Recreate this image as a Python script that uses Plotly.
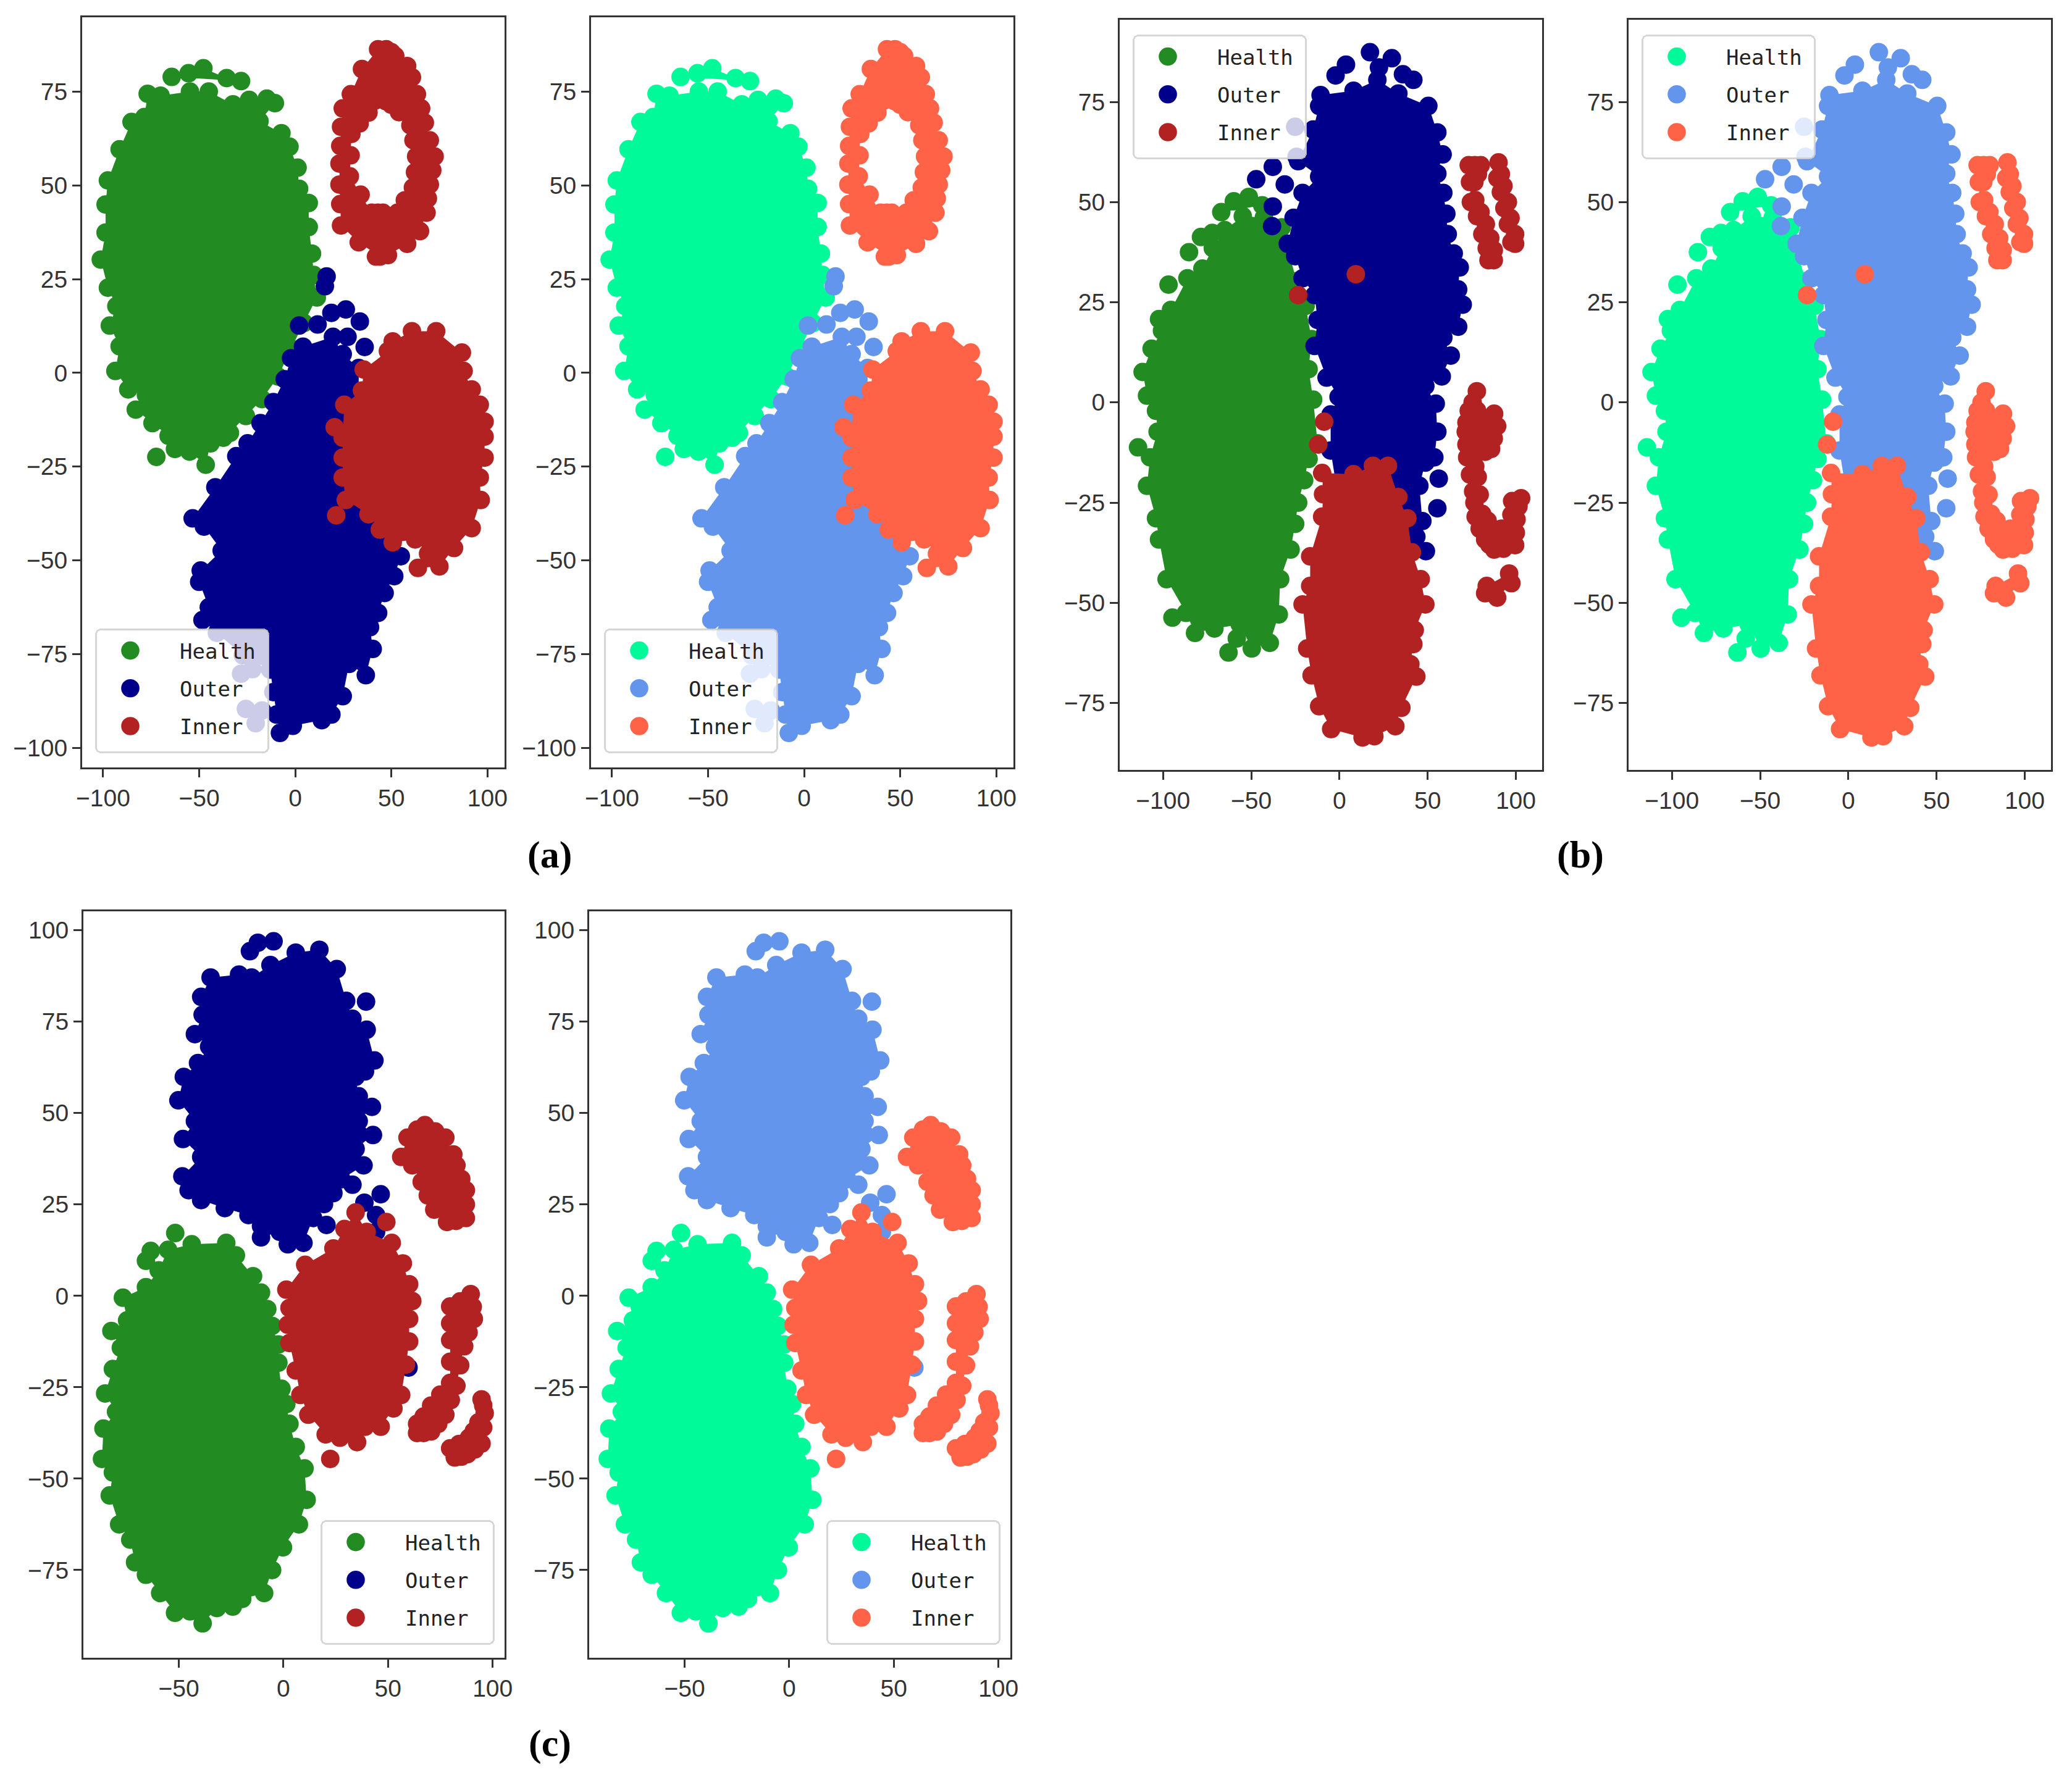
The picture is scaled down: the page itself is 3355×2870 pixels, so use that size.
import plotly.graph_objects as go

# Values. Each list runs round the edge of a cluster; None starts a new part.
A_HEALTH = [(-54.8,75),(-45,75),(-32.4,71.6),(-24,72.8),(-14.8,73.1),(-10.6,71.9),(-18.6,67.1),(-7.2,63.9),(-3,60.3),(1.2,54.7),(2,49.1),(7,45.3),(7,38.9),(8.7,31.8),(9.6,26.1),(11.2,20.1),(4.5,13.3),(-2.2,6.5),(-8.9,-1),(-17.3,-7),(-25.7,-11.5),(-34,-16),(-37.4,-17.3),(-44.1,-18.8),(-46.6,-24.5),(-55,-21),(-62.6,-20.3),(-65.9,-16.8),(-74.3,-13.4),(-83,-9.8),(-77.7,-5.9),(-86.9,-4.4),(-93.6,0.5),(-91.4,7.1),(-96.5,12.6),(-93.1,17.8),(-97.5,22.7),(-101.2,30.2),(-98.7,37.4),(-98.7,44.9),(-97.5,51.3),(-91.4,59.6),(-85.2,66.9),(-78.5,68.2),(-76.8,74.4),(-70.1,73.9),None,
            (-64.3,78.9),(-55.5,79.9),(-47.8,81.2),(-35.7,78.6),(-28.2,77.8),None,(-72.3,-22.4)]
A_OUTER = [(-24.8,-18.8),(-30.7,-22.2),(-41.6,-30.5),(-53.4,-38.8),(-47.5,-41),(-38.3,-47.4),(-49.2,-52.7),(-50,-55.7),(-45,-62.5),(-48.3,-65.9),(-40.8,-69.3),(-27.3,-75.3),(-13.1,-79.1),(-11.4,-85.1),(-9.7,-91.1),(-8,-96),(-1.3,-94.1),(13.8,-92.6),(18.8,-91.1),(24.7,-86.2),(28,-77.6),(36.7,-80.6),(40.3,-73.6),(38.9,-67.8),(43.1,-64),(46.5,-58.7),(51.5,-54.2),(54.9,-48.9),(33,-31),(33,1.3),(24.7,5),(19.6,9.6),(4,7),(-2.2,3.9),(-5.5,-1.7),(-11.4,-7.8),(-18.1,-13.4),None,
           (16.3,25.7),(15.4,23.1),None,(26.3,16.9),(18.8,16),(11.6,12.9),None,(33.6,13.7),None,(2,12.6),None,(36.1,6.9),None,(27.2,9.6),None,(-28.2,-80.2),(-22.3,-79),None,(-25.7,-89.6),(-20.6,-93.4),(-17.3,-90)]
A_INNER = [(47.3,86.3),(52,84.5),(58.2,81.8),(60.7,78.8),(63.3,74.3),(65.5,70.5),(67.4,66.7),(70,62),(72.5,57.7),(71.3,54),(70,50.2),(69,46.5),(68.3,42.7),(64.9,37.8),(58.2,34.4),(48.2,31.4),(42,31),(43,42.7),(53.2,42.7),(57,46),(61.2,49.4),(62.3,53.5),(62.9,57.7),(61.5,62),(59.9,66),(54,69.5),(47.3,72.4),None,
           (50,85.5),(43.1,86.3),(34.7,81),(28.9,74.3),(24.7,70.5),(23.8,65.6),(23.4,60.5),(23,55.8),(23,50.2),(23.4,45),(23.8,39.3),(33,34.8),(44,31),(45.6,42.7),(39.8,42.7),(34,47.5),(28.4,52.4),(28.8,58),(29.2,63.7),(33.5,66.5),(38.1,69.4),(50,71.5),None,
           (50.7,8.4),(60.7,11.1),(73.3,11.1),(86.7,5.4),(87.6,0.5),(91.8,-4.4),(96,-8.5),(98.5,-13),(98.5,-17),(98.5,-22.6),(96,-27.9),(96.5,-33.9),(91.8,-41.4),(82.6,-46.7),(75,-51.6),(63.8,-52),(69.1,-48.2),(62.4,-44.4),(50.7,-45.2),(44,-41.8),(38.1,-37.7),(26.3,-33.9),(24.7,-27.9),(24.7,-22.6),(24.7,-17.3),(25.5,-8.5),(34.7,-4.7),(35.6,0.9),(48.2,5.8),None,
           (20.5,-14.5),None,(21.3,-38)]

B_HEALTH = [(-54.8,46.5),(-42.9,46.1),(-32.7,43.7),(-29.3,38.5),(-24.3,30.3),(-19.2,24.1),(-15.8,15.8),(-17.5,8.3),(-14.9,0.7),(-12.4,-10.2),(-17.5,-14.1),(-20,-19.4),(-23.4,-25),(-25.1,-30.3),(-27.7,-36.7),(-33.6,-44.1),(-34.4,-52.9),(-39.5,-60),(-49.7,-61.4),(-56.5,-55.4),(-70.9,-56.4),(-81.9,-57.5),(-87,-52.5),(-98,-44.1),(-102.3,-34.2),(-104,-28.9),(-109.1,-20.8),(-107.4,-13.7),(-103.1,-7.3),(-104,-2.1),(-109.1,1.7),(-111.6,7.6),(-106.5,13.4),(-100.6,17.9),(-95.5,23.1),(-86.2,31),(-77.7,33.4),(-71.8,38.5),(-65,43),None,
            (-102.3,20.8),None,(-96.9,29.4),None,(-85.3,37.5),None,(-78.5,41.3),(-72.1,42.3),None,(-67,47.5),(-59.9,50.2),(-51.4,51.3),(-43.8,49.2),None,(-114.2,-11.2),None,(-94.7,-53.7),None,(-62.9,-62.4),(-58.2,-58.9)]
B_OUTER = [(-10.7,76.7),(8,77.8),(21.5,80.5),(33.4,77.1),(50.4,74),(55.5,67.4),(58.5,61.9),(55.5,57.1),(58.9,52.3),(60.6,47.1),(61.4,42),(64.8,37.2),(68.2,33.7),(67.3,28.2),(69.9,24.4),(67.3,18.9),(58.9,16.2),(63.1,11.7),(58,6.5),(48.7,4.1),(54.6,-0.3),(55.5,-7.3),(53.8,-13.7),(48.7,-15),(45.3,-20.8),(47,-29.6),(43.6,-33.5),(40.2,-34.9),(0,-25.7),(-5,-12),(-5,-3),(-0.5,1.4),(-7.3,6.2),(-14.1,14.1),(-12.4,20.6),(-14.1,26.8),(-20.9,31),(-25.1,36.5),(-29.3,39.6),(-26,46.1),(-20.9,52.3),(-11.5,56.4),(-23.4,60.2),(-14.9,68.1),(-11.5,74),None,
           (17.3,87.4),None,(29.7,85.9),None,(3.7,84.3),(-2.2,81.6),None,(22.4,83.6),None,(41.9,80.5),(36,81.9),None,(56.3,-19),None,(55.5,-26.4),None,(49,-37.1),None,(-37.8,58.8),(-47.2,55.7),None,(-31,54.4),None,(-37.8,48.9),(-38.2,44),None,(-25.1,68.8),None,(-24.3,61.3)]
B_INNER = [(19,-15.8),(27.5,-15.8),(33.4,-23.6),(38.5,-28.9),(41.1,-37.4),(46.1,-44.1),(48.7,-50.4),(42.7,-56.8),(41.9,-60.3),(40.2,-65.3),(43.6,-68.4),(35.1,-76.2),(31.7,-80.8),(19.8,-83.3),(13.1,-83.6),(-4.7,-81.5),(-11.5,-75.8),(-15.8,-68.1),(-18.3,-61.4),(-20.9,-50.4),(-16.6,-45.8),(-16.6,-38.4),(-9.8,-28.5),(-9.3,-22.9),(-9.8,-17.6),(8,-17.9),None,
           (73.3,59.2),(76.7,59.2),(80.1,59.2),(78.5,57),(76.5,55),(77,50.5),(80,47.5),(83,44.5),(85.5,41),(87.5,38),(87.5,35.5),(84.5,35.5),(83.5,38.5),(81,42),(78,46.5),(74.5,50),(74,55),None,
           (90.2,59.9),(91.5,57),(93,54),(95.5,50),(97,46),(99.6,42),(99.6,39.6),(97.5,40),(95.5,44.5),(93.5,48.5),(91.5,52.5),(89.5,56),None,
           (77.9,2.8),(75.5,0),(73.3,-2.1),(72,-5),(71.6,-7.3),(72,-10.5),(72.4,-13.7),(74,-18),(75.8,-22.2),(76.5,-25),(77.2,-28.5),(79.5,-31.5),(82.6,-34.2),(85,-35.5),(87.7,-36.7),(93,-36.5),(99.6,-35.6),(100,-32.5),(100.4,-29.2),(101.5,-26),(103,-23.9),(97.9,-24.6),(97.5,-28),(97,-31.4),(92,-31.5),(87.7,-31.7),(84,-29.5),(80.9,-27.8),(79.5,-23),(78.4,-18.6),(77,-16),(75.8,-13.7),(76.5,-10),(77.9,-6),(78,-2),None,
           (87.7,-2.8),(89.4,-5.9),(87.5,-9),(86,-11.6),(82.6,-12.3),(81.5,-10),(80.9,-7.3),(84.3,-4.8),None,
           (83.5,-45.8),(96.2,-42.7),(97.5,-45.1),(89.4,-48.7),(82.6,-47.6),None,
           (9.3,32),None,(-23.4,26.8),None,(-8.7,-4.8),None,(-12,-10.5)]

C_HEALTH = [(-55.1,12.6),(-43.8,14.1),(-27.3,14.5),(-22.7,11.1),(-14.5,5.4),(-10.7,0.9),(-7.7,-3.6),(-5.4,-8.2),(-2.4,-13.3),(-2.4,-18.3),(-0.9,-25.4),(1.4,-29.6),(2.9,-35),(5.9,-41.3),(10.1,-47.2),(11.1,-55.8),(7.4,-62.5),(-0.2,-68.8),(-5.4,-75),(-9.2,-81.3),(-19.7,-82.9),(-24.2,-85),(-31.8,-85.4),(-38.6,-89.6),(-44.6,-86.3),(-51.8,-86.7),(-58.9,-81.3),(-65.7,-76.3),(-70.9,-72.9),(-73.2,-66.7),(-78.5,-62.5),(-83,-54.6),(-81.5,-48.3),(-86.7,-44.6),(-86,-36.3),(-80,-31.7),(-85.2,-26.7),(-81.5,-20),(-77.7,-14.2),(-82.2,-9.6),(-74.7,-6.7),(-76.7,-0.5),(-65.7,2.4),(-59.6,7),None,
            (-51.7,17.2),None,(-63.4,12.3),(-65.7,9.6)]
C_OUTER = [(-6.2,90.5),(5.9,93.9),(17.2,94.7),(25.5,89.4),(30,80.7),(33,75.8),(39.8,72.8),(43.5,64.4),(39,61.4),(34.5,59.9),(36,54.6),(42.3,51.7),(36,47.8),(42.8,44),(34.5,40.2),(38.3,35.7),(27.7,31.9),(23.9,28.1),(19.4,25.1),(14.2,21.3),(9.6,14.5),(2.1,14.1),(-1.7,17.5),(-10.7,16),(-10.7,19.1),(-16.7,22.1),(-28,24),(-39.3,26.2),(-45.3,28.9),(-48.3,32.7),(-39.3,38),(-48,42.9),(-42.3,47.8),(-50.2,53.5),(-47.6,59.9),(-40.8,63.7),(-35.5,68.2),(-42.3,71.6),(-38.6,76.9),(-39.3,81.8),(-34.8,87.1),(-21.2,87.9),(-15.2,87.1),None,
           (-16,94.3),(-12.2,96.6),(-4.7,97),None,(39.5,80.5),None,(33,30.4),None,(46.5,27.8),None,(38.7,25.5),None,(44.3,22.1),(44.3,17.5),None,(20.6,19.4),None,(59.8,-19.6)]
C_INNER = [(34.5,22.8),(39.8,17.5),(51.8,14.5),(57.1,8.9),(60.1,3.2),(61.6,-1.4),(60.1,-6.3),(60.1,-12.5),(58.6,-18.8),(56.3,-27.1),(52.6,-30.8),(46.5,-35.8),(39,-35.8),(35.2,-40),(27,-38.8),(20.2,-37.9),(11.9,-32.5),(8.1,-27.1),(5.9,-20.4),(2.9,-12.9),(2.1,-7.9),(2.9,-3.3),(1.4,1.7),(10.4,8.5),(23.9,13),(29.2,18.3),None,
           (67.6,46.7),(72.5,45),(77.4,43.3),(81.2,38.7),(82.7,35.7),(85,32),(87.2,28.9),(87.2,25),(87.2,21.3),(82.5,20.5),(78.2,20.2),(72.1,23.6),(69,27.5),(66.1,31.2),(61.6,35.7),(56.3,38),(59.3,43.3),(64,45.5),None,
           (89.5,0.5),(90.5,-3),(91,-6.3),(88.5,-10),(86.4,-13.8),(84.5,-19),(82.7,-24.6),(80,-28.5),(77.4,-32.5),(74,-35),(70.6,-37.1),(67,-37.5),(63.9,-37.5),(63.9,-35),(67,-33),(70.6,-30),(75,-27),(79.7,-23.8),(79.7,-18),(79.7,-12.1),(79.7,-7.5),(79.7,-2.9),(84.5,-1.5),None,
           (94.7,-28.3),(95.5,-30),(96.2,-32.1),(95.5,-36),(94.7,-40.4),(91.5,-42),(88,-43.3),(85,-44),(81.9,-44.2),(79.7,-41.7),(84,-40.5),(88.7,-38.8),(91,-37),(93.2,-34.6),None,
           (49.2,20.2),None,(22.4,-44.6)]

SERIES = ["Health", "Outer", "Inner"]
DARK = ["#228B22", "#00008B", "#B22222"]
LIGHT = ["#00FA9A", "#6495ED", "#FF6347"]
X_TICKS = [-100, -50, 0, 50, 100]
X_TICKS_C = [-50, 0, 50, 100]
Y_TICKS_A = [-100, -75, -50, -25, 0, 25, 50, 75]
Y_TICKS_B = [-75, -50, -25, 0, 25, 50, 75]
Y_TICKS_C = [-75, -50, -25, 0, 25, 50, 75, 100]

W, H = 3355, 2870
# frame px (left, right, top, bottom), axis ranges, data, colours, ticks, legend px (left, top)
PANELS = [
    ((133, 817, 28, 1243), (-110.9, 108.9), (-105.2, 94.8), (A_HEALTH, A_OUTER, A_INNER), DARK, X_TICKS, Y_TICKS_A, (154, 1022)),
    ((957, 1641, 28, 1243), (-110.9, 108.9), (-105.2, 94.8), (A_HEALTH, A_OUTER, A_INNER), LIGHT, X_TICKS, Y_TICKS_A, (978, 1022)),
    ((1813, 2497, 32, 1247), (-124.6, 114.9), (-91.7, 95.5), (B_HEALTH, B_OUTER, B_INNER), DARK, X_TICKS, Y_TICKS_B, (1834, 60)),
    ((2637, 3321, 32, 1247), (-124.6, 114.9), (-91.7, 95.5), (B_HEALTH, B_OUTER, B_INNER), LIGHT, X_TICKS, Y_TICKS_B, (2658, 60)),
    ((135, 817, 1476, 2685), (-95.6, 105.7), (-99, 105.2), (C_HEALTH, C_OUTER, C_INNER), DARK, X_TICKS_C, Y_TICKS_C, (519, 2466)),
    ((954, 1636, 1476, 2685), (-95.6, 105.7), (-99, 105.2), (C_HEALTH, C_OUTER, C_INNER), LIGHT, X_TICKS_C, Y_TICKS_C, (1338, 2466)),
]


def split_parts(points):
    parts, cur = [], []
    for p in points:
        if p is None:
            parts.append(cur)
            cur = []
        else:
            cur.append(p)
    parts.append(cur)
    return parts


fig = go.Figure()
layout = dict(width=W, height=H, margin=dict(l=0, r=0, t=0, b=0, autoexpand=False), autosize=False,
              paper_bgcolor="white", plot_bgcolor="white", showlegend=True)
TICK_FONT = dict(family="Liberation Sans Narrow, Liberation Sans", size=39, color="#333333")

for i, (frame, xr, yr, data, colours, xt, yt, leg) in enumerate(PANELS, start=1):
    l, r, t, b = frame
    sfx = "" if i == 1 else str(i)
    common = dict(showgrid=False, zeroline=False, showline=True, mirror=True, linecolor="#333333",
                  linewidth=3, ticks="outside", ticklen=13, tickwidth=2.5, tickcolor="#333333",
                  tickfont=TICK_FONT)
    layout["xaxis" + sfx] = dict(domain=[l / W, r / W], range=list(xr), tickvals=xt, anchor="y" + sfx, **common)
    layout["yaxis" + sfx] = dict(domain=[1 - b / H, 1 - t / H], range=list(yr), tickvals=yt, anchor="x" + sfx, **common)
    layout["legend" + sfx] = dict(x=leg[0] / W, y=1 - leg[1] / H, xanchor="left", yanchor="top",
                                  bgcolor="rgba(255,255,255,0.8)", bordercolor="rgba(204,204,204,0.8)",
                                  borderwidth=3, itemwidth=124, tracegroupgap=14, entrywidth=142,
                                  font=dict(family="DejaVu Sans Mono", size=34, color="#222222"))
    for name, pts, colour in zip(SERIES, data, colours):
        for part in split_parts(pts):
            if len(part) > 2:
                fig.add_trace(go.Scatter(
                    x=[p[0] for p in part], y=[p[1] for p in part], mode="none", fill="toself",
                    fillcolor=colour, line=dict(simplify=False), showlegend=False, hoverinfo="skip",
                    xaxis="x" + sfx, yaxis="y" + sfx))
        fig.add_trace(go.Scatter(
            x=[None if p is None else p[0] for p in pts],
            y=[None if p is None else p[1] for p in pts],
            name=name, mode="markers",
            marker=dict(size=30, color=colour, line=dict(width=0)),
            xaxis="x" + sfx, yaxis="y" + sfx, legend="legend" + sfx,
            legendgroup=f"{name}{i}", hoverinfo="skip"))

LABELS = [("(a)", 890, 1385), ("(b)", 2559, 1385), ("(c)", 890, 2823)]
layout["annotations"] = [dict(text=f"<b>{s}</b>", x=px / W, y=1 - py / H, xref="paper", yref="paper",
                              showarrow=False, xanchor="center", yanchor="middle",
                              font=dict(family="Liberation Serif", size=62, color="black"))
                         for s, px, py in LABELS]
fig.update_layout(**layout)

POST = """
document.body.style.margin = '0';
document.querySelectorAll('.legendpoints path.scatterpts').forEach(function(p){
  var t = p.getAttribute('transform') || '';
  p.setAttribute('transform', 'translate(-13,0) ' + t + ' scale(1.85)');
});
document.querySelectorAll('.infolayer g[class^="legend"] rect.bg').forEach(function(r){
  r.setAttribute('rx', 8); r.setAttribute('ry', 8);
  var y = parseFloat(r.getAttribute('y') || '0'), h = parseFloat(r.getAttribute('height'));
  var w = parseFloat(r.getAttribute('width'));
  r.setAttribute('y', y - 4); r.setAttribute('height', h + 16); r.setAttribute('width', w + 14);
});
"""
fig.write_html("out.html", post_script=POST, config=dict(displayModeBar=False))
